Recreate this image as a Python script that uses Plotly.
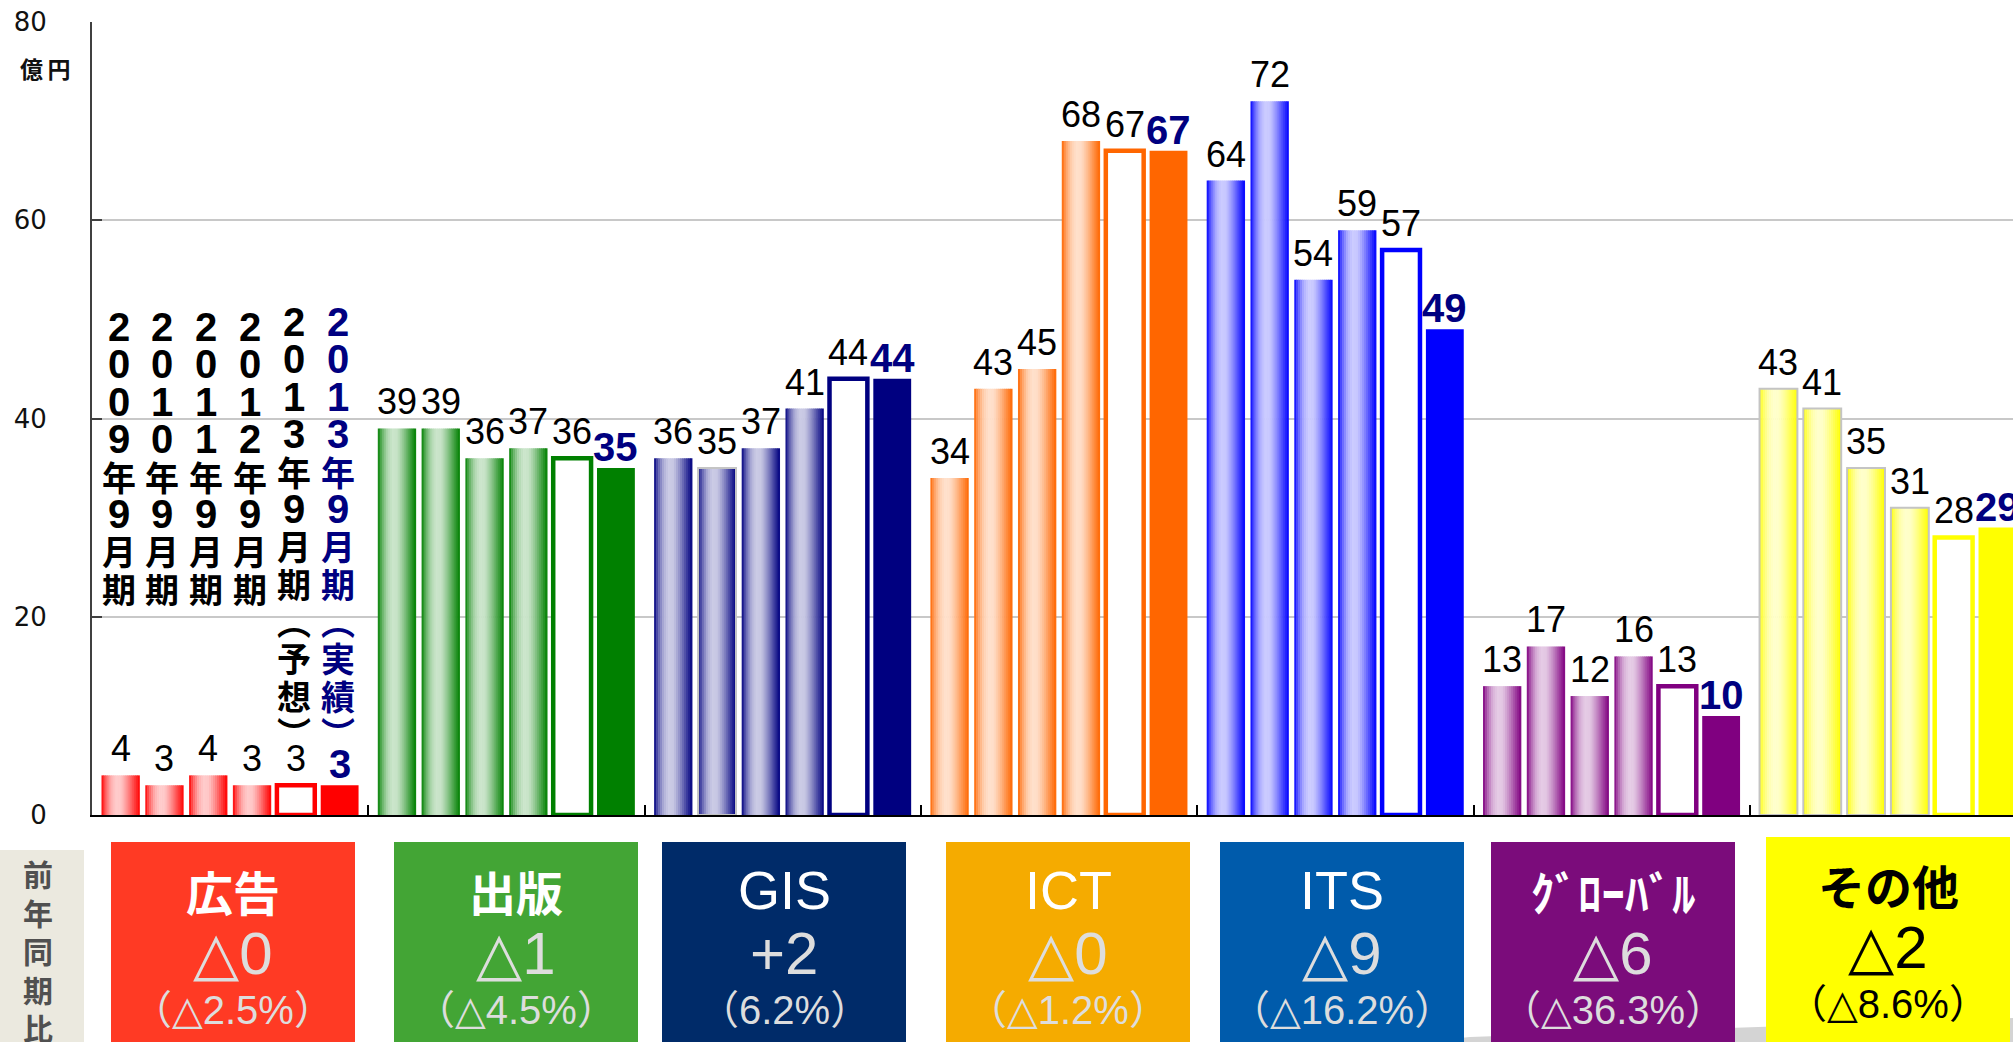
import numpy as np
import plotly.graph_objects as go

# ---- data -------------------------------------------------------------
categories = ["広告", "出版", "GIS", "ICT", "ITS", "ｸﾞﾛｰﾊﾞﾙ", "その他"]
period_labels = [
    "2009年9月期",
    "2010年9月期",
    "2011年9月期",
    "2012年9月期",
    "2013年9月期︵予想︶",
    "2013年9月期︵実績︶",
]
sales_2009_09 = [4, 39, 36, 34, 64, 13, 43]
sales_2010_09 = [3, 39, 35, 43, 72, 17, 41]
sales_2011_09 = [4, 36, 37, 45, 54, 12, 35]
sales_2012_09 = [3, 37, 41, 68, 59, 16, 31]
forecast_2013_09 = [3, 36, 44, 67, 57, 13, 28]
actual_2013_09 = [3, 35, 44, 67, 49, 10, 29]
yoy_change = ["△0", "△1", "+2", "△0", "△9", "△6", "△2"]
yoy_change_pct = ["（△2.5%）", "（△4.5%）", "（6.2%）", "（△1.2%）",
                  "（△16.2%）", "（△36.3%）", "（△8.6%）"]
y_tick_values = [0, 20, 40, 60, 80]
y_unit = "億\u2009円"
yoy_title = "前年同期比"

# ---- styling ----------------------------------------------------------
W, H = 2013, 1042
M_L, M_R, M_T, M_B = 92, 0, 22, 227
PLOT_W = W - M_L - M_R
PLOT_H = H - M_T - M_B
ZERO_PX = H - M_B

bar_rgb = [(255, 0, 0), (0, 128, 0), (0, 0, 128), (255, 102, 0),
           (0, 0, 255), (128, 0, 128), (255, 255, 0)]
box_colors = ["#ff3a24", "#43a535", "#002b69", "#f5ab00",
              "#005bab", "#7b0c7b", "#ffff00"]
box_text_colors = ["#ffffff"] * 6 + ["#000000"]
box_sub_colors = ["#dddddd"] * 6 + ["#000000"]
box_left_px = [111, 394, 662, 946, 1220, 1491, 1766]
box_width_px = 244
box_top_px = [842, 842, 842, 842, 842, 842, 837]
text_lift_px = [0, 0, 0, 0, 0, 0, 6]

PITCH = 0.1585        # distance between bars in a group (axis units)
BAR_W = 0.137         # bar width (axis units)
N_STRIPS = 19         # vertical strips used to shade the cylinder bars
offsets = [(j - 2.5) * PITCH for j in range(6)]
groups = np.arange(len(categories))

X_MAX = -0.5 + PLOT_W / 276.3

LATIN = "Liberation Sans, Arial, sans-serif"
CJK = "Noto Sans CJK JP"
DELTA_FONT = "Liberation Sans Narrow, Liberation Sans, DejaVu Sans, Noto Sans CJK JP"


def px_x(px):
    return (px - M_L) / PLOT_W


def px_y(py):
    return (ZERO_PX - py) / PLOT_H


def rgb(c):
    return "rgb(%d,%d,%d)" % tuple(int(round(v)) for v in c)


prof_t = [0.0, 0.10, 0.25, 0.38, 0.52, 0.68, 0.84, 0.95, 1.0]
prof_f = [0.0, 0.45, 0.85, 1.0, 0.97, 0.7, 0.35, 0.12, 0.0]


def shade(c, t):
    f = float(np.interp(t, prof_t, prof_f))
    light = [0.2 * v + 0.8 * 255 for v in c]
    return rgb([a + (b - a) * f for a, b in zip(c, light)])


history = [sales_2009_09, sales_2010_09, sales_2011_09, sales_2012_09]
all_series = history + [forecast_2013_09, actual_2013_09]

fig = go.Figure()

# shaded history bars built from narrow strips
for j, series in enumerate(history):
    for k in range(N_STRIPS):
        t = (k + 0.5) / N_STRIPS
        xs = groups + offsets[j] - BAR_W / 2 + t * BAR_W
        fig.add_trace(go.Bar(
            x=xs, y=series, width=BAR_W / N_STRIPS * 1.25,
            marker=dict(color=[shade(c, t) for c in bar_rgb], line=dict(width=0)),
            hoverinfo="skip", showlegend=False))
    outline = ["rgba(0,0,0,0)"] * len(categories)
    outline[6] = "#c4c4c4"
    if j == 1:
        outline[2] = "#c4c4c4"
    fig.add_trace(go.Bar(
        x=groups + offsets[j], y=series, width=BAR_W,
        marker=dict(color="rgba(0,0,0,0)", line=dict(color=outline, width=2)),
        hoverinfo="skip", showlegend=False))

# forecast: hollow outlined bars
fig.add_trace(go.Bar(
    x=groups + offsets[4], y=forecast_2013_09, width=BAR_W,
    marker=dict(color="#ffffff", line=dict(color=[rgb(c) for c in bar_rgb], width=4.5)),
    hoverinfo="skip", showlegend=False))

# actual: solid bars
fig.add_trace(go.Bar(
    x=groups + offsets[5], y=actual_2013_09, width=BAR_W,
    marker=dict(color=[rgb(c) for c in bar_rgb], line=dict(width=0)),
    hoverinfo="skip", showlegend=False))

annotations = []

# value labels
for j, series in enumerate(all_series):
    last = j == 5
    for g, v in enumerate(series):
        annotations.append(dict(
            x=g + offsets[j], y=v, xref="x", yref="y", text=str(v),
            showarrow=False, yanchor="bottom", xanchor="center",
            yshift=-3 if last else 4,
            font=dict(family=LATIN,
                      size=40 if last else 36,
                      color="#000080" if last else "#000000",
                      weight="bold" if last else "normal")))

# vertical period labels above the first group
for j, label in enumerate(period_labels):
    start = 322 if j >= 4 else 327
    color = "#000080" if j == 5 else "#000000"
    for i, ch in enumerate(label):
        if ch.isascii():
            font = dict(family=LATIN, size=40, color=color, weight="bold")
        else:
            font = dict(family=CJK, size=34, color=color, weight="bold")
        annotations.append(dict(
            x=offsets[j], xref="x", y=px_y(start + i * 37.3), yref="paper",
            text=ch, showarrow=False, xanchor="center", yanchor="middle",
            xshift=-2, font=font))

# unit label
annotations.append(dict(
    x=px_x(45), y=px_y(68), xref="paper", yref="paper", text=y_unit,
    showarrow=False, xanchor="center", yanchor="middle",
    font=dict(family=CJK, size=23, color="#111111", weight="bold")))

shapes = []

# grey floor strip under the category boxes
shadow_pts = [(1420, 1042), (1470, 1037), (2013, 1018), (2013, 1042)]
path = "M " + " L ".join("%f,%f" % (px_x(a), px_y(b)) for a, b in shadow_pts) + " Z"
shapes.append(dict(type="path", path=path, xref="paper", yref="paper",
                   fillcolor="#d4d4d4", line=dict(width=0), layer="below"))

# year-on-year panel title
shapes.append(dict(type="rect", xref="paper", yref="paper",
                   x0=px_x(0), x1=px_x(84), y0=px_y(850), y1=px_y(1050),
                   fillcolor="#ebe9df", line=dict(width=0)))
for i, ch in enumerate(yoy_title):
    annotations.append(dict(
        x=px_x(38), y=px_y(873 + i * 38.5), xref="paper", yref="paper",
        text=ch, showarrow=False, xanchor="center", yanchor="middle",
        font=dict(family=CJK, size=30, color="#505050", weight="bold")))

# category boxes with year-on-year change
for g, name in enumerate(categories):
    left = box_left_px[g]
    shapes.append(dict(type="rect", xref="paper", yref="paper",
                       x0=px_x(left), x1=px_x(left + box_width_px),
                       y0=px_y(1050), y1=px_y(box_top_px[g]),
                       fillcolor=box_colors[g], line=dict(width=0)))
    cx = px_x(left + box_width_px / 2)
    lift = text_lift_px[g]
    if name.isascii():
        name_font = dict(family=LATIN, size=54, color=box_text_colors[g])
    else:
        name_font = dict(family=CJK, size=47, color=box_text_colors[g], weight="bold")
    annotations.append(dict(x=cx, y=px_y(890 - lift), xref="paper", yref="paper",
                            text=name, showarrow=False, xanchor="center",
                            yanchor="middle", font=name_font))
    annotations.append(dict(
        x=cx, y=px_y(953 - lift), xref="paper", yref="paper", text=yoy_change[g],
        showarrow=False, xanchor="center", yanchor="middle",
        font=dict(family=DELTA_FONT, size=60, color=box_sub_colors[g])))
    annotations.append(dict(
        x=cx, y=px_y(1010 - lift), xref="paper", yref="paper", text=yoy_change_pct[g],
        showarrow=False, xanchor="center", yanchor="middle",
        font=dict(family=DELTA_FONT, size=40, color=box_sub_colors[g])))

fig.update_layout(
    width=W, height=H,
    margin=dict(l=M_L, r=M_R, t=M_T, b=M_B, pad=0),
    paper_bgcolor="#ffffff", plot_bgcolor="#ffffff",
    barmode="overlay",
    showlegend=False,
    annotations=annotations,
    shapes=shapes,
    xaxis=dict(range=[-0.5, X_MAX], tickvals=[g + 0.5 for g in groups[:-1]],
               ticks="inside", ticklen=10, tickwidth=2, tickcolor="#000000",
               showticklabels=False, showline=True, linecolor="#000000",
               linewidth=2, showgrid=False, zeroline=False, fixedrange=True),
    yaxis=dict(range=[0, 80], tickvals=y_tick_values, ticks="inside",
               ticklen=10, tickwidth=2, tickcolor="#404040",
               showline=True, linecolor="#404040", linewidth=2,
               showgrid=True, gridcolor="#c8c8c8", gridwidth=1.5,
               zeroline=False, ticklabelstandoff=38, fixedrange=True,
               tickfont=dict(family="DejaVu Sans", size=26, color="#111111")),
)

fig.write_html("out.html", config={"displayModeBar": False})
